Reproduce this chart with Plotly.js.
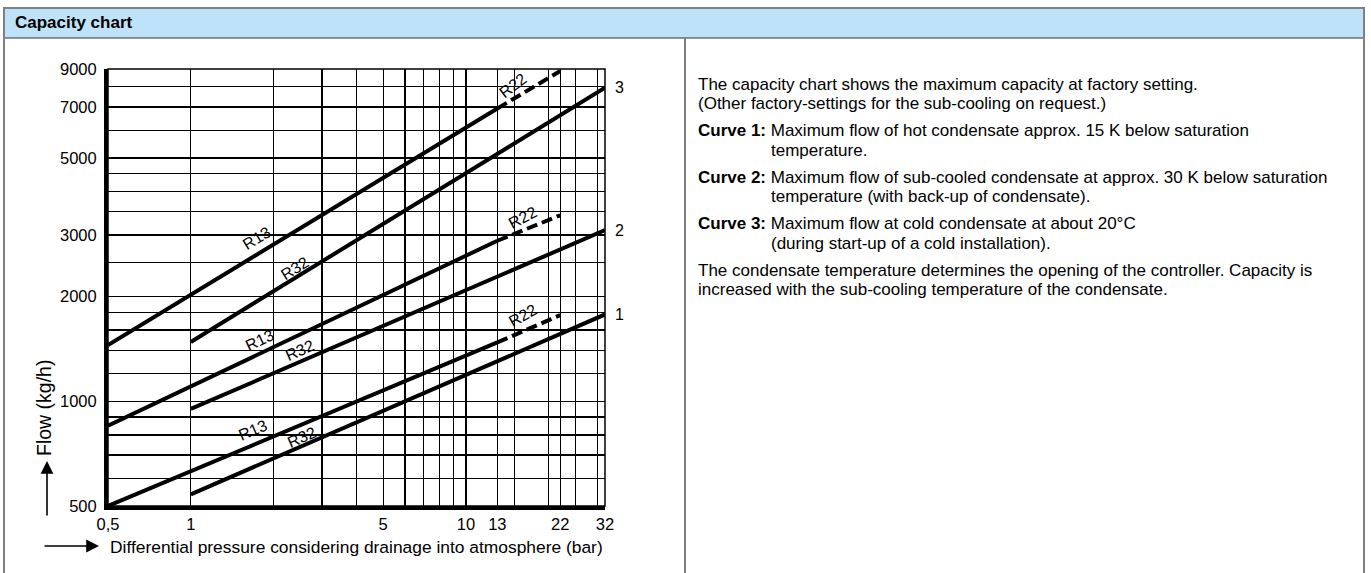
<!DOCTYPE html>
<html>
<head>
<meta charset="utf-8">
<script src="https://cdn.plot.ly/plotly-3.0.1.min.js"></script>
<style>
  html, body { margin: 0; padding: 0; background: #ffffff; overflow: hidden; }
  #chart { width: 1371px; height: 573px; }
</style>
</head>
<body>
<div id="chart"></div>
<script>
// ---------- data ----------
const pressureR13 = [0.5, 13];     // bar, solid R13 part
const pressureR22 = [13, 22];      // bar, dashed R22 extension
const pressureR32 = [1, 32];       // bar, R32 line

const curve1R13 = [500, 1475];
const curve1R22 = [1475, 1767];
const curve1R32 = [540, 1775];

const curve2R13 = [850, 2890];
const curve2R22 = [2890, 3420];
const curve2R32 = [950, 3100];

const curve3R13 = [1450, 6930];
const curve3R22 = [6930, 8880];
const curve3R32 = [1480, 7950];

const curveNames = ['1', '2', '3'];

const xTickVals = [0.5, 1, 2, 3, 4, 5, 6, 7, 8, 9, 10, 13, 15, 20, 22, 25, 30, 32];
const xTickText = ['0,5', '1', '', '', '', '5', '', '', '', '', '10', '13', '', '', '22', '', '', '32'];
const yTickVals = [500, 600, 700, 800, 900, 1000, 1200, 1400, 1600, 1800, 2000, 2500, 3000, 3500, 4000, 4500, 5000, 6000, 7000, 8000, 9000];
const yTickText = ['500', '', '', '', '', '1000', '', '', '', '', '2000', '', '3000', '', '', '', '5000', '', '7000', '', '9000'];

// refrigerant label anchors: [pressure, flow]
const labelR13 = [[1.67, 826], [1.77, 1497], [1.73, 2940]];
const labelR32 = [[2.52, 788], [2.48, 1401], [2.38, 2410]];
const labelR22 = [[16.1, 1766], [16.1, 3370], [14.8, 8090]];

const headerText = 'Capacity chart';
const xTitle = 'Differential pressure considering drainage into atmosphere (bar)';
const yTitle = 'Flow (kg/h)';
const introLines = ['The capacity chart shows the maximum capacity at factory setting.',
                    '(Other factory-settings for the sub-cooling on request.)'];
const curveHeads = ['Curve 1:', 'Curve 2:', 'Curve 3:'];
const curveLines = [
  ['Maximum flow of hot condensate approx. 15 K below saturation', 'temperature.'],
  ['Maximum flow of sub-cooled condensate at approx. 30 K below saturation', 'temperature (with back-up of condensate).'],
  ['Maximum flow at cold condensate at about 20°C', '(during start-up of a cold installation).']
];
const outroLines = ['The condensate temperature determines the opening of the controller. Capacity is',
                    'increased with the sub-cooling temperature of the condensate.'];

// ---------- geometry ----------
const FIG_W = 1371, FIG_H = 573;
const L = 108, R = 605, T = 69, B = 506;
const PW = R - L, PH = B - T;
const px = x => (x - L) / PW;
const py = y => (B - y) / PH;
const FONT = 'Liberation Sans, Arial, sans-serif';

const groupsR13 = [curve1R13, curve2R13, curve3R13];
const groupsR22 = [curve1R22, curve2R22, curve3R22];
const groupsR32 = [curve1R32, curve2R32, curve3R32];

const traces = [];
for (let g = 0; g < 3; g++) {
  traces.push({x: pressureR13, y: groupsR13[g], mode: 'lines', line: {color: '#000', width: 4}, hoverinfo: 'skip'});
  traces.push({x: pressureR22, y: groupsR22[g], mode: 'lines', line: {color: '#000', width: 4, dash: '11px,5px'}, hoverinfo: 'skip'});
  traces.push({x: pressureR32, y: groupsR32[g], mode: 'lines', line: {color: '#000', width: 4}, hoverinfo: 'skip'});
}

// visual angle of a line segment in pixels
const logRangeX = [Math.log10(0.5), Math.log10(32)];
const logRangeY = [Math.log10(500), Math.log10(9000)];
const pxPerDecX = PW / (logRangeX[1] - logRangeX[0]);
const pxPerDecY = PH / (logRangeY[1] - logRangeY[0]);
function angleOf(xs, ys) {
  const dx = (Math.log10(xs[1]) - Math.log10(xs[0])) * pxPerDecX;
  const dy = (Math.log10(ys[1]) - Math.log10(ys[0])) * pxPerDecY;
  return -Math.atan2(dy, dx) * 180 / Math.PI;
}

const annotations = [];
function refLabel(txt, pos, ang) {
  annotations.push({x: Math.log10(pos[0]), y: Math.log10(pos[1]), xref: 'x', yref: 'y', text: txt,
    showarrow: false, textangle: ang, font: {family: FONT, size: 16, color: '#000'},
    xanchor: 'center', yanchor: 'middle'});
}
for (let g = 0; g < 3; g++) {
  refLabel('R13', labelR13[g], angleOf(pressureR13, groupsR13[g]));
  refLabel('R32', labelR32[g], angleOf(pressureR32, groupsR32[g]));
  refLabel('R22', labelR22[g], angleOf(pressureR22, groupsR22[g]) - 6);
  // curve number at the right end
  annotations.push({x: Math.log10(pressureR32[1]), y: Math.log10(groupsR32[g][1]), xref: 'x', yref: 'y',
    text: curveNames[g], showarrow: false, xanchor: 'left', yanchor: 'middle', xshift: 8,
    font: {family: FONT, size: 16, color: '#000'}});
}

// header
annotations.push({xref: 'paper', yref: 'paper', x: px(13), y: py(23), text: '<b>' + headerText + '</b>',
  showarrow: false, xanchor: 'left', yanchor: 'middle', font: {family: FONT, size: 17, color: '#000'}});

// axis titles with arrows
annotations.push({xref: 'paper', yref: 'paper', x: px(108), y: py(547), text: xTitle, showarrow: false,
  xanchor: 'left', yanchor: 'middle', font: {family: FONT, size: 17.4, color: '#000'}});
annotations.push({xref: 'paper', yref: 'paper', x: px(99), y: py(546), ax: -56, ay: 0, axref: 'pixel', ayref: 'pixel',
  text: '', showarrow: true, arrowhead: 2, arrowsize: 1.6, arrowwidth: 1.6, arrowcolor: '#000', standoff: 0});
annotations.push({xref: 'paper', yref: 'paper', x: px(44), y: py(408), text: yTitle, showarrow: false,
  textangle: -90, xanchor: 'center', yanchor: 'middle', font: {family: FONT, size: 19.5, color: '#000'}});
annotations.push({xref: 'paper', yref: 'paper', x: px(47), y: py(461), ax: 0, ay: 56, axref: 'pixel', ayref: 'pixel',
  text: '', showarrow: true, arrowhead: 2, arrowsize: 1.6, arrowwidth: 1.6, arrowcolor: '#000', standoff: 0});

// right-hand description text
const TX = 696, BODY = 17;
const ctx = document.createElement('canvas').getContext('2d');
ctx.font = 'bold ' + BODY + 'px "Liberation Sans", Arial, sans-serif';
const indent = TX + ctx.measureText('Curve 1: ').width;
function bodyLine(txt, x, yc) {
  annotations.push({xref: 'paper', yref: 'paper', x: px(x), y: py(yc), text: txt, showarrow: false,
    xanchor: 'left', yanchor: 'middle', font: {family: FONT, size: BODY, color: '#000'}});
}
const STEP = 19.5, PARA = 27;
let yc = 84;
bodyLine(introLines[0], TX, yc); yc += STEP;
bodyLine(introLines[1], TX, yc); yc += PARA;
for (let c = 0; c < 3; c++) {
  bodyLine('<b>' + curveHeads[c] + '</b> ' + curveLines[c][0], TX, yc); yc += STEP;
  bodyLine(curveLines[c][1], indent, yc); yc += PARA;
}
bodyLine(outroLines[0], TX, yc); yc += STEP;
bodyLine(outroLines[1], TX, yc);

// frame shapes
const GRAY = '#808080';
const shapes = [
  {type: 'rect', xref: 'paper', yref: 'paper', x0: px(4), x1: px(1364), y0: py(38), y1: py(8),
   fillcolor: '#bee3f8', line: {width: 0}, layer: 'below'},
  {type: 'line', xref: 'paper', yref: 'paper', x0: px(3), x1: px(1365), y0: py(8), y1: py(8), line: {color: GRAY, width: 2}},
  {type: 'line', xref: 'paper', yref: 'paper', x0: px(4), x1: px(1364), y0: py(38), y1: py(38), line: {color: '#333', width: 1.2}},
  {type: 'line', xref: 'paper', yref: 'paper', x0: px(4), x1: px(4), y0: py(8), y1: py(575), line: {color: GRAY, width: 2}},
  {type: 'line', xref: 'paper', yref: 'paper', x0: px(1364), x1: px(1364), y0: py(8), y1: py(575), line: {color: GRAY, width: 2}},
  {type: 'line', xref: 'paper', yref: 'paper', x0: px(685), x1: px(685), y0: py(38), y1: py(575), line: {color: GRAY, width: 2}},
  {type: 'rect', xref: 'paper', yref: 'paper', x0: 0, x1: 1, y0: 0, y1: 1, line: {color: '#000', width: 1.5}}
];

const layout = {
  width: FIG_W, height: FIG_H,
  margin: {l: L, r: FIG_W - R, t: T, b: FIG_H - B, pad: 0},
  paper_bgcolor: '#ffffff', plot_bgcolor: '#ffffff',
  showlegend: false,
  xaxis: {type: 'log', range: logRangeX, tickmode: 'array', tickvals: xTickVals, ticktext: xTickText,
    showgrid: true, gridcolor: '#000', gridwidth: 1.3, zeroline: false,
    showline: true, linecolor: '#000', linewidth: 4, ticks: '', ticklabelstandoff: 0,
    tickfont: {family: FONT, size: 16.5, color: '#000'}, fixedrange: true},
  yaxis: {type: 'log', range: logRangeY, tickmode: 'array', tickvals: yTickVals, ticktext: yTickText,
    showgrid: true, gridcolor: '#000', gridwidth: 1.3, zeroline: false,
    showline: true, linecolor: '#000', linewidth: 4, ticks: '', ticklabelstandoff: 4,
    tickfont: {family: FONT, size: 16.5, color: '#000'}, fixedrange: true},
  shapes: shapes,
  annotations: annotations
};

Plotly.newPlot('chart', traces, layout, {staticPlot: true, displayModeBar: false});
</script>
</body>
</html>
